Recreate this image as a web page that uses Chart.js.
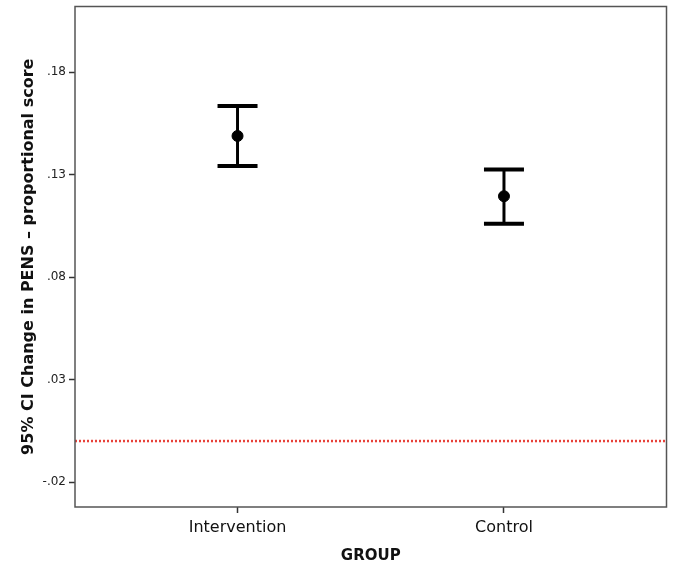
<!DOCTYPE html>
<html>
<head>
<meta charset="utf-8">
<script src="https://cdn.jsdelivr.net/npm/chart.js@4/dist/chart.umd.min.js"></script>
<style>
html,body{margin:0;padding:0;background:#fff;}
#wrap{width:673px;height:567px;}
</style>
</head>
<body>
<div id="wrap"><canvas id="c" width="673" height="567"></canvas></div>
<script>
const categories = ["Intervention", "Control"];
const means = [0.1489, 0.1195];
const lowerCI = [0.1343, 0.1060];
const upperCI = [0.1635, 0.1325];
const referenceValue = [0];
const yTickValues = [-0.02, 0.03, 0.08, 0.13, 0.18];
const yTickLabels = ["-.02", ".03", ".08", ".13", ".18"];
const yRange = [-0.0322, 0.2121];
const xRange = [0.39, 2.61];

const errorBarPlugin = {
  id: 'errorBars',
  afterDatasetsDraw(chart) {
    const ctx = chart.ctx, xs = chart.scales.x, ys = chart.scales.y;
    ctx.save();
    ctx.strokeStyle = '#000';
    ctx.lineCap = 'butt';
    for (let i = 0; i < categories.length; i++) {
      const px = xs.getPixelForValue(i + 1);
      const yl = ys.getPixelForValue(lowerCI[i]);
      const yu = ys.getPixelForValue(upperCI[i]);
      ctx.lineWidth = 3;
      ctx.beginPath(); ctx.moveTo(px, yl); ctx.lineTo(px, yu); ctx.stroke();
      ctx.lineWidth = 4;
      ctx.beginPath();
      ctx.moveTo(px - 20, yl); ctx.lineTo(px + 20, yl);
      ctx.moveTo(px - 20, yu); ctx.lineTo(px + 20, yu);
      ctx.stroke();
    }
    ctx.restore();
  }
};

const boxPlugin = {
  id: 'box',
  afterDraw(chart) {
    const a = chart.chartArea, ctx = chart.ctx;
    ctx.save();
    ctx.strokeStyle = '#555';
    ctx.lineWidth = 1.5;
    ctx.strokeRect(a.left, a.top, a.right - a.left, a.bottom - a.top);
    ctx.restore();
  }
};

new Chart(document.getElementById('c'), {
  type: 'scatter',
  data: {
    datasets: [
      {
        type: 'line',
        data: [{x: xRange[0], y: referenceValue[0]}, {x: xRange[1], y: referenceValue[0]}],
        borderColor: '#e8413a',
        borderWidth: 2.5,
        borderDash: [2, 2],
        pointRadius: 0,
        fill: false,
        order: 2
      },
      {
        data: means.map((m, i) => ({x: i + 1, y: m})),
        backgroundColor: '#000',
        borderColor: '#000',
        pointRadius: 5.5,
        order: 0
      }
    ]
  },
  options: {
    responsive: false,
    animation: false,
    layout: { padding: { top: 5, right: 6, left: 0, bottom: 0 } },
    plugins: { legend: { display: false }, tooltip: { enabled: false } },
    scales: {
      x: {
        type: 'linear',
        min: xRange[0], max: xRange[1],
        afterBuildTicks(s) { s.ticks = categories.map((c, i) => ({value: i + 1})); },
        afterFit(s) { s.height = 60; s.paddingLeft = 0; s.paddingRight = 0; },
        ticks: {
          callback: (v) => categories[Math.round(v) - 1] || '',
          color: '#111',
          font: { family: 'DejaVu Sans', size: 16 },
          padding: 5,
          maxRotation: 0
        },
        grid: { display: true, drawOnChartArea: false, drawTicks: true, tickLength: 6, color: '#333', tickWidth: 1.5 },
        border: { display: false },
        title: {
          display: true, text: 'GROUP', color: '#111',
          font: { family: 'DejaVu Sans', size: 15, weight: 'bold' },
          padding: { top: 0, bottom: 2 }
        }
      },
      y: {
        type: 'linear',
        min: yRange[0], max: yRange[1],
        afterBuildTicks(s) { s.ticks = yTickValues.map(v => ({value: v})); },
        afterFit(s) { s.width = 75; s.paddingTop = 0; s.paddingBottom = 0; },
        ticks: {
          callback: (v) => { const i = yTickValues.findIndex(t => Math.abs(t - v) < 1e-9); return i >= 0 ? yTickLabels[i] : ''; },
          color: '#222',
          font: { family: 'DejaVu Sans', size: 12 },
          padding: 3
        },
        grid: { display: true, drawOnChartArea: false, drawTicks: true, tickLength: 6, color: '#333', tickWidth: 1.5 },
        border: { display: false },
        title: {
          display: true, text: '95% CI Change in PENS – proportional score', color: '#111',
          font: { family: 'DejaVu Sans', size: 16, weight: 'bold' },
          padding: { top: 19, bottom: 0 }
        }
      }
    }
  },
  plugins: [errorBarPlugin, boxPlugin]
});
</script>
</body>
</html>
